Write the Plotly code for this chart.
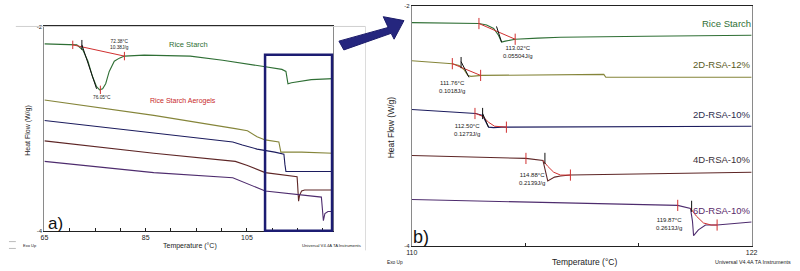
import plotly.graph_objects as go

# ---------------- Panel a) : full DSC curves (65-122 °C) ----------------
a_rice_T = [65.0, 70.6, 71.4, 72.6, 73.6, 74.5, 75.3, 75.9, 76.5, 77.1, 77.8, 78.8, 79.8, 80.8, 84.7, 93.8, 100.2, 108.0, 111.9, 112.7, 112.9, 113.1, 113.8, 117.7, 122.0]
a_rice_HF = [-2.17, -2.18, -2.18, -2.23, -2.34, -2.49, -2.59, -2.62, -2.61, -2.56, -2.44, -2.34, -2.31, -2.29, -2.28, -2.29, -2.33, -2.39, -2.42, -2.44, -2.50, -2.56, -2.55, -2.52, -2.51]

a_12_T = [65.0, 86.6, 102.7, 105.1, 107.0, 108.6, 111.3, 111.5, 111.7, 115.8, 122.0]
a_12_HF = [-2.72, -2.87, -3.00, -3.02, -3.08, -3.11, -3.13, -3.19, -3.23, -3.23, -3.24]

a_2d10_T = [65.0, 86.6, 102.2, 104.1, 107.0, 110.5, 112.3, 112.5, 112.7, 115.8, 122.0]
a_2d10_HF = [-2.92, -3.04, -3.13, -3.16, -3.20, -3.23, -3.25, -3.35, -3.42, -3.42, -3.42]

a_4d10_T = [65.0, 86.6, 102.7, 105.1, 108.6, 114.9, 115.0, 115.2, 115.4, 115.8, 116.4, 122.0]
a_4d10_HF = [-3.12, -3.24, -3.32, -3.36, -3.43, -3.47, -3.54, -3.71, -3.65, -3.61, -3.60, -3.60]

a_6d10_T = [65.0, 86.6, 102.2, 105.1, 108.6, 119.7, 119.9, 120.1, 120.4, 121.0, 122.0]
a_6d10_HF = [-3.32, -3.43, -3.48, -3.54, -3.61, -3.67, -3.78, -3.90, -3.83, -3.81, -3.81]

# integration annotations on panel a
a_base_T = [70.6, 80.8]
a_base_HF = [-2.18, -2.29]
a_tan_T = [72.4, 75.3]
a_tan_HF = [-2.18, -2.61]
a_tick_T = [70.6, 80.8, 76.05]
a_tick_HF = [-2.18, -2.29, -2.62]

# ---------------- Panel b) : zoom 110-122 °C ----------------
b_rice_T = [110.0, 111.32, 112.37, 112.64, 112.89, 113.06, 113.17, 113.30, 113.48, 113.65, 114.45, 115.25, 118.28, 122.0]
b_rice_HF = [-2.139, -2.143, -2.147, -2.159, -2.188, -2.245, -2.302, -2.294, -2.286, -2.278, -2.269, -2.261, -2.253, -2.245]

b_12_T = [110.0, 111.43, 111.67, 111.84, 111.98, 112.09, 112.47, 116.78, 116.85, 122.0]
b_12_HF = [-2.457, -2.482, -2.498, -2.531, -2.580, -2.588, -2.580, -2.571, -2.596, -2.596]

b_2d10_T = [110.0, 112.26, 112.50, 112.61, 112.71, 112.89, 113.17, 122.0]
b_2d10_HF = [-2.865, -2.898, -2.914, -2.963, -3.012, -3.016, -3.012, -3.004]

b_4d10_T = [110.0, 114.03, 114.63, 114.70, 114.80, 115.04, 115.25, 115.60, 122.0]
b_4d10_HF = [-3.249, -3.273, -3.290, -3.363, -3.461, -3.429, -3.420, -3.412, -3.388]

b_6d10_T = [110.0, 119.39, 119.84, 119.91, 119.95, 120.12, 120.37, 120.78, 122.0]
b_6d10_HF = [-3.616, -3.665, -3.690, -3.796, -3.918, -3.869, -3.829, -3.829, -3.804]

# red integration baselines / black tangents on panel b
b_red = [
    ([112.37, 113.65], [-2.147, -2.278]),
    ([111.43, 112.43], [-2.482, -2.580]),
    ([112.26, 112.50, 112.71, 112.92, 113.34], [-2.898, -2.922, -2.971, -3.004, -3.012]),
    ([114.63, 114.80, 115.01, 115.25, 115.60], [-3.290, -3.339, -3.388, -3.412, -3.412]),
    ([119.84, 120.05, 120.30, 120.57, 120.78], [-3.690, -3.755, -3.812, -3.829, -3.829]),
]
b_black = [
    ([112.99, 113.17], [-2.171, -2.302]),
    ([111.74, 112.02], [-2.465, -2.596]),
    ([112.50, 112.71], [-2.898, -3.012]),
]
b_redtick_T = [112.37, 113.65, 111.43, 112.43, 112.23, 113.34, 114.03, 115.60, 119.39, 120.78]
b_redtick_HF = [-2.147, -2.278, -2.482, -2.580, -2.898, -3.012, -3.273, -3.412, -3.665, -3.829]
b_blacktick_T = [111.74, 112.50, 114.70, 119.88]
b_blacktick_HF = [-2.473, -2.898, -3.273, -3.673]

b_labels = ["Rice Starch", "2D-RSA-12%", "2D-RSA-10%", "4D-RSA-10%", "6D-RSA-10%"]
b_peak_text = ["113.02°C<br>0.05504J/g", "111.76°C<br>0.1018J/g", "112.50°C<br>0.1273J/g",
               "114.88°C<br>0.2139J/g", "119.87°C<br>0.2613J/g"]

C_GREEN = "#2f6f35"
C_OLIVE = "#85853a"
C_NAVY = "#1c1c5e"
C_BROWN = "#5e2626"
C_PURPLE = "#4e2c6e"
C_RED = "#d03030"
FONT = "Liberation Sans"

W, H = 800, 271
def px(x):
    return x / W
def py(y):
    return 1 - y / H

fig = go.Figure()

def line(x, y, color, xa, ya, width=1.1):
    fig.add_trace(go.Scatter(x=x, y=y, mode="lines", line=dict(color=color, width=width),
                             xaxis=xa, yaxis=ya, hoverinfo="skip", showlegend=False))

def ticks(x, y, color, xa, ya, size=7):
    fig.add_trace(go.Scatter(x=x, y=y, mode="markers",
                             marker=dict(symbol="line-ns", size=size, line=dict(color=color, width=1)),
                             xaxis=xa, yaxis=ya, hoverinfo="skip", showlegend=False))

# panel a curves
line(a_rice_T, a_rice_HF, C_GREEN, "x", "y")
line(a_12_T, a_12_HF, C_OLIVE, "x", "y")
line(a_2d10_T, a_2d10_HF, C_NAVY, "x", "y")
line(a_4d10_T, a_4d10_HF, C_BROWN, "x", "y")
line(a_6d10_T, a_6d10_HF, C_PURPLE, "x", "y")
line(a_base_T, a_base_HF, C_RED, "x", "y", 1)
line(a_tan_T, a_tan_HF, "#111111", "x", "y", 1)
ticks(a_tick_T, a_tick_HF, C_RED, "x", "y", 6)
ticks([a_tan_T[0]], [a_tan_HF[0]], "#111111", "x", "y", 7)

# panel b curves
line(b_rice_T, b_rice_HF, C_GREEN, "x2", "y2")
line(b_12_T, b_12_HF, C_OLIVE, "x2", "y2")
line(b_2d10_T, b_2d10_HF, C_NAVY, "x2", "y2")
line(b_4d10_T, b_4d10_HF, C_BROWN, "x2", "y2")
line(b_6d10_T, b_6d10_HF, C_PURPLE, "x2", "y2")
for xs, ys in b_red:
    line(xs, ys, C_RED, "x2", "y2", 1)
for xs, ys in b_black:
    line(xs, ys, "#111111", "x2", "y2", 1)
ticks(b_redtick_T, b_redtick_HF, C_RED, "x2", "y2", 8)
ticks(b_blacktick_T, b_blacktick_HF, "#111111", "x2", "y2", 8)

annotations = []
def txt(x, y, s, size, color="#222222", xanchor="center", angle=0):
    annotations.append(dict(x=px(x), y=py(y), xref="paper", yref="paper", text=s, showarrow=False,
                            font=dict(family=FONT, size=size, color=color), xanchor=xanchor,
                            yanchor="middle", textangle=angle))

# panel a texts
txt(185, 42, "Rice Starch", 7.5, C_GREEN)
txt(180, 100, "Rice Starch Aerogels", 7, "#c8282a")
txt(115, 42, "72.38°C<br>10.38J/g", 4.8)
txt(97, 97, "76.05°C", 4.8)
txt(50, 226, "a)", 17, "#111111")
txt(187, 248, "Temperature (°C)", 7)
txt(22, 130, "Heat Flow (W/g)", 7, angle=-90)
txt(24, 248, "Exo Up", 4)
txt(330, 248, "Universal V4.4A TA Instruments", 4.2)

# panel b texts
label_y = [21, 63, 114, 160, 212]
label_c = [C_GREEN, "#5a5a1e", "#2e2e4e", "#3a3038", "#5a2a6a"]
for s, yy, cc in zip(b_labels, label_y, label_c):
    txt(758, yy, s, 9.5, cc, xanchor="right")
peak_pos = [(520, 50), (453, 86), (468, 130), (534, 180), (673, 226)]
for s, (xx, yy) in zip(b_peak_text, peak_pos):
    txt(xx, yy, s, 6)
txt(421, 239, "b)", 18, "#111111")
txt(587, 265, "Temperature (°C)", 8.5)
txt(391, 127, "Heat Flow (W/g)", 8.5, angle=-90)
txt(395, 265, "Exo Up", 4.8)
txt(799, 265, "Universal V4.4A TA Instruments", 5.4, xanchor="right")

shapes = [
    # frame of left picture
    dict(type="line", xref="paper", yref="paper", x0=px(10), x1=px(365), y0=py(24), y1=py(24),
         line=dict(color="#cfcfcf", width=1)),
    dict(type="line", xref="paper", yref="paper", x0=px(365), x1=px(365), y0=py(24), y1=py(253),
         line=dict(color="#dcdcdc", width=1)),
    dict(type="line", xref="paper", yref="paper", x0=px(3), x1=px(10), y0=py(244), y1=py(244),
         line=dict(color="#bbbbbb", width=1)),
    dict(type="line", xref="paper", yref="paper", x0=px(3), x1=px(10), y0=py(251), y1=py(251),
         line=dict(color="#bbbbbb", width=1)),
    # blue zoom rectangle
    dict(type="rect", xref="paper", yref="paper", x0=px(263), x1=px(331), y0=py(233), y1=py(53),
         line=dict(color="#1c1c72", width=2.5)),
]
arrow = [(338, 39), (388, 25), (383, 14), (404, 18), (394, 37), (391, 31), (343, 48)]
path = "M " + " L ".join(f"{px(a):.5f},{py(b):.5f}" for a, b in arrow) + " Z"
shapes.append(dict(type="path", xref="paper", yref="paper", path=path,
                   fillcolor="#25267e", line=dict(color="#1c1c6a", width=1)))

axis_common = dict(showgrid=False, zeroline=False, showline=True, mirror=True, linewidth=1,
                   tickfont=dict(family=FONT, size=6, color="#222222"))

fig.update_layout(
    width=W, height=H, margin=dict(l=0, r=0, t=0, b=0),
    paper_bgcolor="white", plot_bgcolor="white", showlegend=False,
    annotations=annotations, shapes=shapes,
    xaxis=dict(domain=[px(39), px(332)], range=[65, 122], anchor="y",
               tickvals=list(range(65, 125, 5)),
               ticktext=[str(v) if v in (65, 85, 105) else "" for v in range(65, 125, 5)],
               ticks="inside", ticklen=3, tickcolor="#222222", linecolor="#222222", **axis_common),
    yaxis=dict(domain=[py(233), py(24)], range=[-4, -2], anchor="x",
               tickvals=[-4, -2], ticktext=["-4", "-2"], ticks="", linecolor="#8a8a8a", **axis_common),
    xaxis2=dict(domain=[px(412), px(757)], range=[110, 122], anchor="y2",
                tickvals=[110, 114, 118, 122], ticktext=["110", "", "", "122"],
                ticks="inside", ticklen=3, tickcolor="#222222", linecolor="#222222", **axis_common),
    yaxis2=dict(domain=[py(248), py(3)], range=[-4, -2], anchor="x2",
                tickvals=[-4, -2], ticktext=["-4", "-2"], ticks="", linecolor="#8a8a8a", **axis_common),
)
fig.update_xaxes(tickfont=dict(size=7))

fig.write_html("out.html", config={"displayModeBar": False},
               post_script="document.body.style.margin='0';document.body.style.overflow='hidden';")
